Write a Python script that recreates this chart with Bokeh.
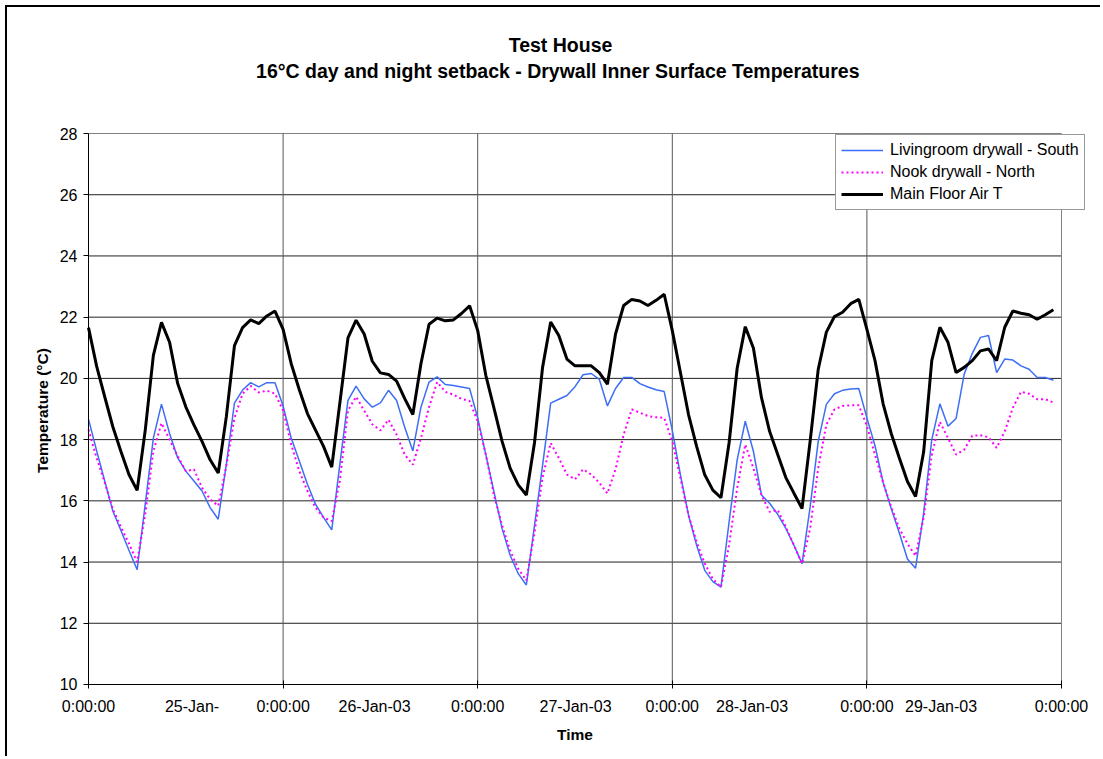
import math
from bokeh.plotting import figure
from bokeh.models import FixedTicker, Label, Legend, LegendItem, ColumnDataSource
from bokeh.embed import file_html
from bokeh.resources import INLINE

# hourly samples, 25-Jan-03 0:00 to 29-Jan-03 23:00
hours = list(range(120))

living = [18.67, 17.64, 16.65, 15.67, 15.03, 14.38, 13.75, 15.9, 18.05, 19.16,
          18.2, 17.4, 16.97, 16.65, 16.32, 15.78, 15.4, 17.19, 19.19, 19.62,
          19.86, 19.72, 19.86, 19.86, 19.1, 18.05, 17.3, 16.54, 15.89, 15.45,
          15.05, 17.2, 19.28, 19.75, 19.33, 19.06, 19.2, 19.61, 19.28, 18.4,
          17.63, 19.06, 19.88, 20.05, 19.8, 19.77, 19.72, 19.67, 18.71, 17.51,
          16.3, 15.1, 14.22, 13.62, 13.25, 15.18, 17.16, 19.19, 19.32, 19.44,
          19.73, 20.12, 20.16, 19.97, 19.1, 19.67, 20.03, 20.03, 19.83, 19.72,
          19.63, 19.57, 18.3, 16.85, 15.53, 14.55, 13.73, 13.36, 13.18, 15.3,
          17.34, 18.6, 17.62, 16.19, 15.92, 15.56, 15.1, 14.55, 13.95, 15.8,
          17.95, 19.15, 19.5, 19.61, 19.65, 19.67, 18.71, 17.8, 16.6, 15.75,
          14.95, 14.1, 13.8, 15.6, 18.0, 19.17, 18.44, 18.69, 20.14, 20.82,
          21.34, 21.4, 20.19, 20.63, 20.6, 20.41, 20.3, 20.03, 20.03, 19.94]

nook = [18.33, 17.4, 16.6, 15.73, 15.14, 14.6, 14.0, 15.57, 17.62, 18.54,
        18.0, 17.46, 16.97, 17.03, 16.43, 16.05, 15.84, 17.14, 18.7, 19.5,
        19.75, 19.54, 19.6, 19.5, 18.95, 17.84, 16.97, 16.32, 15.78, 15.45,
        15.34, 16.65, 18.95, 19.4, 18.95, 18.5, 18.3, 18.65, 18.16, 17.51,
        17.18, 18.05, 19.06, 19.88, 19.56, 19.47, 19.33, 19.26, 18.6, 17.51,
        16.19, 15.21, 14.38, 13.78, 13.4, 14.95, 16.76, 17.89, 17.4, 16.86,
        16.7, 17.03, 16.86, 16.59, 16.24, 17.03, 18.16, 18.99, 18.88, 18.77,
        18.73, 18.71, 17.95, 16.74, 15.53, 14.66, 13.95, 13.45, 13.18, 14.55,
        16.41, 17.84, 17.07, 16.19, 15.64, 15.7, 15.15, 14.55, 13.95, 15.1,
        17.07, 18.49, 18.99, 19.1, 19.12, 19.12, 18.45, 17.5, 16.6, 15.8,
        15.1, 14.6, 14.2, 15.45, 17.5, 18.58, 18.05, 17.51, 17.67, 18.13,
        18.14, 18.08, 17.73, 18.27, 19.04, 19.56, 19.5, 19.32, 19.32, 19.21]

air = [21.66, 20.4, 19.4, 18.42, 17.61, 16.85, 16.34, 18.31, 20.75, 21.83,
       21.18, 19.83, 19.07, 18.48, 17.94, 17.34, 16.91, 18.75, 21.07, 21.66,
       21.91, 21.79, 22.04, 22.2, 21.6, 20.48, 19.63, 18.85, 18.31, 17.77,
       17.1, 19.2, 21.32, 21.9, 21.45, 20.56, 20.18, 20.13, 19.91, 19.34,
       18.82, 20.48, 21.77, 21.97, 21.88, 21.91, 22.12, 22.37, 21.56, 20.1,
       19.04, 17.95, 17.07, 16.52, 16.19, 17.89, 20.36, 21.84, 21.4, 20.63,
       20.41, 20.41, 20.41, 20.19, 19.81, 21.45, 22.38, 22.58, 22.53, 22.38,
       22.55, 22.75, 21.56, 20.19, 18.82, 17.78, 16.85, 16.35, 16.1, 17.89,
       20.33, 21.69, 20.99, 19.37, 18.27, 17.51, 16.76, 16.25, 15.75, 17.95,
       20.3, 21.51, 22.02, 22.16, 22.44, 22.58, 21.6, 20.58, 19.17, 18.2,
       17.4, 16.63, 16.14, 17.6, 20.58, 21.67, 21.18, 20.19, 20.36, 20.58,
       20.9, 20.96, 20.58, 21.67, 22.2, 22.13, 22.08, 21.93, 22.08, 22.24]

series_names = ["Livingroom drywall - South", "Nook drywall - North", "Main Floor Air T"]

day_ticks = [0, 1, 2, 3, 4, 5]
day_tick_label = "0:00:00"
date_labels = ["25-Jan-", "26-Jan-03", "27-Jan-03", "28-Jan-03", "29-Jan-03"]
date_label_pos = [0.532, 1.47, 2.503, 3.41, 4.381]
y_ticks = [10, 12, 14, 16, 18, 20, 22, 24, 26, 28]

title_lines = ["Test House", "16\u00b0C day and night setback -  Drywall Inner Surface Temperatures"]
x_title = "Time"
y_title = "Temperature (\u00b0C)"

FONT = "Liberation Sans"
X0, X1 = day_ticks[0], day_ticks[-1]
Y0, Y1 = y_ticks[0], y_ticks[-1]

src = ColumnDataSource(dict(t=[h / 24 for h in hours], living=living, nook=nook, air=air))

# the frame fills the whole canvas (so titles, axis titles and legend are never
# clipped); the axes sit at fixed data positions around the plot area
p = figure(width=1095, height=751, x_range=(-0.41624, 5.21069), y_range=(7.5825, 32.1162),
           output_backend="svg", toolbar_location=None,
           min_border_left=0, min_border_right=0, min_border_top=0, min_border_bottom=0,
           background_fill_color="white", border_fill_color="white")
p.styles = {"margin-left": "5px", "margin-top": "5px",
            "border-left": "2px solid #000", "border-top": "2px solid #000"}
p.outline_line_color = None
p.xgrid.visible = False
p.ygrid.visible = False

# grid lines over the plot area
hy = y_ticks[1:]
p.segment(x0=[X0] * len(hy), x1=[X1] * len(hy), y0=hy, y1=hy,
          line_color=["#222222"] * (len(hy) - 1) + ["#808080"], line_width=1)
vx = day_ticks[1:]
p.segment(x0=vx, x1=vx, y0=[Y0] * len(vx), y1=[Y1] * len(vx),
          line_color=["#555555"] * (len(vx) - 1) + ["#808080"], line_width=1)

r1 = p.line("t", "living", source=src, line_color="#3D6EF5", line_width=1.5)
r2 = p.line("t", "nook", source=src, line_color="#FF00FF", line_width=2, line_dash="2 3")
r3 = p.line("t", "air", source=src, line_color="#000000", line_width=3)

# x axis
ticks = sorted(day_ticks + date_label_pos)
p.xaxis.fixed_location = Y0
p.xaxis.ticker = FixedTicker(ticks=ticks, minor_ticks=day_ticks)
overrides = {d: day_tick_label for d in day_ticks}
overrides.update({pos: lab for pos, lab in zip(date_label_pos, date_labels)})
p.xaxis.major_label_overrides = overrides
p.xaxis.bounds = (X0, X1)
p.xaxis.major_tick_in = 0
p.xaxis.major_tick_out = 0
p.xaxis.minor_tick_in = 4
p.xaxis.minor_tick_out = 4
p.xaxis.minor_tick_line_color = "#000000"
p.xaxis.major_label_standoff = 10

# y axis
p.yaxis.fixed_location = X0
p.yaxis.ticker = FixedTicker(ticks=y_ticks, minor_ticks=[])
p.yaxis.bounds = (Y0, Y1)
p.yaxis.major_tick_in = 0
p.yaxis.major_tick_out = 5
p.yaxis.major_label_standoff = 6

for ax in (p.xaxis, p.yaxis):
    ax.axis_line_color = "#000000"
    ax.major_tick_line_color = "#000000"
    ax.major_label_text_font = FONT
    ax.major_label_text_font_size = "16px"
    ax.major_label_text_color = "#000000"

# axis titles
p.add_layout(Label(x=(X0 + X1) / 2, y=8.367, text=x_title, text_align="center",
                   text_baseline="middle", text_font=FONT, text_font_size="15.5px",
                   text_font_style="bold", text_color="#000000"))
p.add_layout(Label(x=-0.2364, y=18.95, text=y_title, angle=math.pi / 2, text_align="center",
                   text_baseline="middle", text_font=FONT, text_font_size="15.5px",
                   text_font_style="bold", text_color="#000000"))

# chart titles above the plot area
for txt, yy in zip(title_lines, [30.907, 30.058]):
    p.add_layout(Label(x=2.4255, y=yy, text=txt,
                       text_align="center", text_baseline="middle", text_font=FONT,
                       text_font_size="19.5px", text_font_style="bold", text_color="#000000"))

legend = Legend(items=[LegendItem(label=series_names[0], renderers=[r1]),
                       LegendItem(label=series_names[1], renderers=[r2]),
                       LegendItem(label=series_names[2], renderers=[r3])],
                location=(828, 548))
legend.label_text_font = FONT
legend.label_text_font_size = "16px"
legend.label_text_color = "#000000"
legend.glyph_width = 42
legend.glyph_height = 20
legend.label_height = 20
legend.label_standoff = 7
legend.padding = 5
legend.spacing = 2
legend.margin = 0
legend.border_line_color = "#333333"
legend.border_line_width = 1
legend.background_fill_color = "white"
legend.background_fill_alpha = 1
p.add_layout(legend)

open("out.html", "w").write(file_html(p, INLINE))
